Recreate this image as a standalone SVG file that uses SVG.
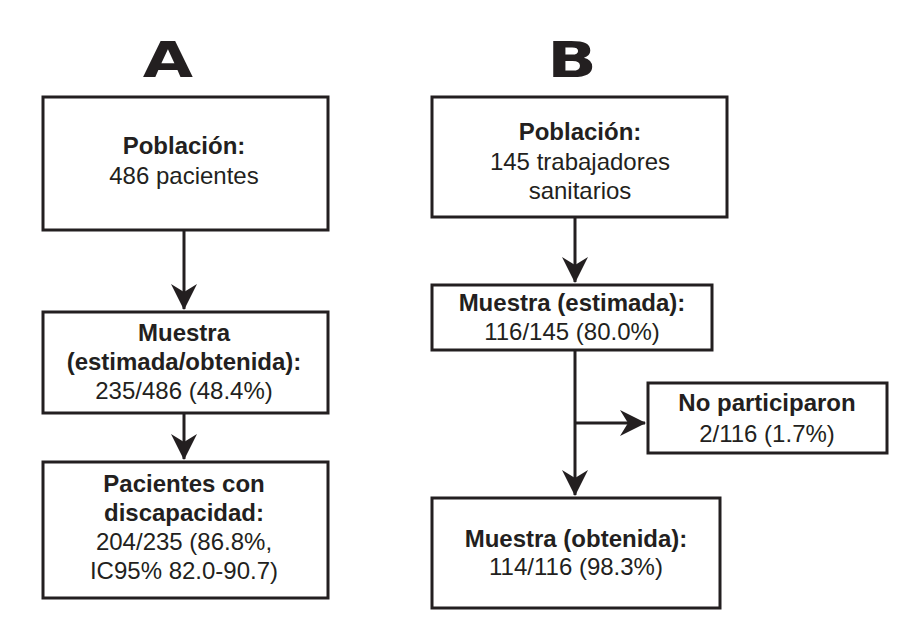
<svg xmlns="http://www.w3.org/2000/svg" width="913" height="630" viewBox="0 0 913 630">
<style>
.box{fill:#fff;stroke:#231f20;stroke-width:3}
.t{font-family:"Liberation Sans",Arial,sans-serif;font-size:24px;fill:#231f20;text-anchor:middle}
.b{font-weight:bold}
.L{font-family:"DejaVu Sans",sans-serif;font-weight:900;font-size:56px;fill:#231f20;text-anchor:middle}
.c{stroke:#231f20;stroke-width:3;fill:none}
</style>
<defs>
<marker id="a" viewBox="0 0 26 26" refX="25" refY="13" markerWidth="26" markerHeight="26" orient="auto" markerUnits="userSpaceOnUse"><path d="M0,0L26,13L0,26L8,13z" fill="#231f20"/></marker></defs>
<text class="L" x="168" y="77" style="font-size:50px" transform="translate(168 77) scale(1.3 1) translate(-168 -77)">A</text>
<text class="L" x="572" y="77" style="font-size:50px" transform="translate(572 77) scale(1.3 1) translate(-572 -77)">B</text>
<g id="connectors">
<path class="c" d="M184 231V309" marker-end="url(#a)"/>
<path class="c" d="M184 414V459" marker-end="url(#a)"/>
<path class="c" d="M575 218V282" marker-end="url(#a)"/>
<path class="c" d="M575 351V495" marker-end="url(#a)"/>
<path class="c" d="M575 423H645" marker-end="url(#a)"/>
</g>
<g id="a1"><rect class="box" x="43" y="97" width="285" height="133"/><text class="t b" x="184" y="154">Población:</text><text class="t" x="184" y="184">486 pacientes</text></g>
<g id="a2"><rect class="box" x="43" y="312" width="285" height="101"/><text class="t b" x="184" y="341">Muestra</text><text class="t b" x="184" y="370">(estimada/obtenida):</text><text class="t" x="184" y="399">235/486 (48.4%)</text></g>
<g id="a3"><rect class="box" x="43" y="462" width="285" height="136"/><text class="t b" x="184" y="492">Pacientes con</text><text class="t b" x="184" y="521">discapacidad:</text><text class="t" x="184" y="550">204/235 (86.8%,</text><text class="t" x="184" y="579">IC95% 82.0-90.7)</text></g>
<g id="b1"><rect class="box" x="432" y="97" width="295" height="120"/><text class="t b" x="580" y="140">Población:</text><text class="t" x="580" y="170">145 trabajadores</text><text class="t" x="580" y="199">sanitarios</text></g>
<g id="b2"><rect class="box" x="432" y="285" width="280" height="65"/><text class="t b" x="572" y="311">Muestra (estimada):</text><text class="t" x="572" y="340">116/145 (80.0%)</text></g>
<g id="b4"><rect class="box" x="648" y="383" width="239" height="70"/><text class="t b" x="767" y="411">No participaron</text><text class="t" x="767" y="442">2/116 (1.7%)</text></g>
<g id="b3"><rect class="box" x="432" y="498" width="288" height="110"/><text class="t b" x="576" y="547">Muestra (obtenida):</text><text class="t" x="576" y="575">114/116 (98.3%)</text></g>
</svg>
